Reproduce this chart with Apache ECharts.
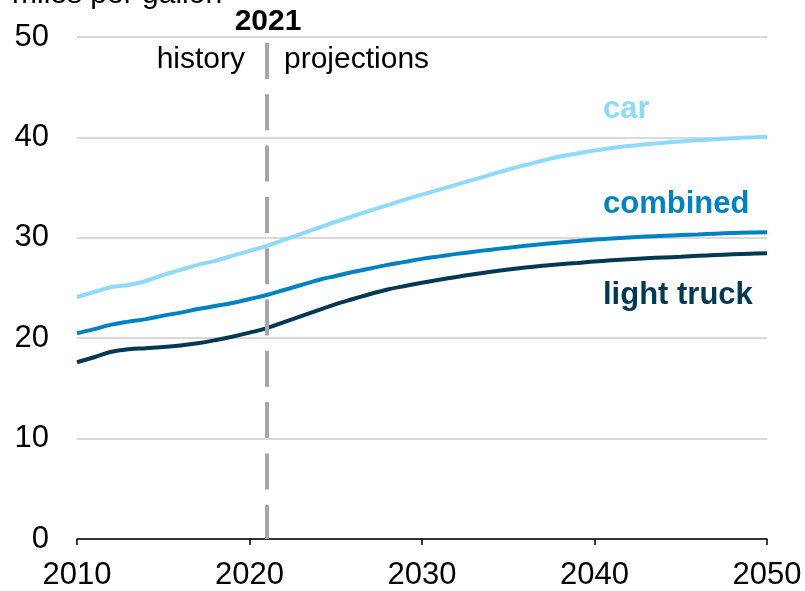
<!DOCTYPE html>
<html>
<head>
<meta charset="utf-8">
<script src="https://cdn.jsdelivr.net/npm/echarts@6/dist/echarts.min.js"></script>
<style>html,body{margin:0;padding:0;background:#fff}#c{width:805px;height:591px}</style>
</head>
<body>
<div id="c"></div>
<script>
const years = [];
for (let y = 2010; y <= 2050; y++) years.push(y);
const car = [24.1,24.6,25.1,25.3,25.7,26.3,26.8,27.3,27.7,28.2,28.7,29.2,29.8,30.4,31.0,31.6,32.15,32.7,33.25,33.8,34.3,34.8,35.3,35.8,36.3,36.8,37.25,37.7,38.1,38.4,38.7,38.95,39.15,39.32,39.47,39.6,39.72,39.82,39.92,40.0,40.07];
const combined = [20.5,20.9,21.35,21.65,21.9,22.25,22.55,22.9,23.2,23.5,23.9,24.3,24.8,25.3,25.8,26.2,26.6,26.95,27.3,27.6,27.9,28.15,28.4,28.62,28.82,29.02,29.2,29.38,29.54,29.68,29.82,29.93,30.03,30.12,30.2,30.27,30.34,30.41,30.47,30.52,30.56];
const lightTruck = [17.6,18.1,18.65,18.9,19.0,19.12,19.28,19.5,19.8,20.15,20.55,21.0,21.6,22.2,22.8,23.4,23.9,24.4,24.85,25.2,25.52,25.82,26.1,26.37,26.62,26.85,27.05,27.22,27.37,27.5,27.65,27.77,27.87,27.96,28.04,28.11,28.2,28.28,28.35,28.41,28.46];
const xTicks = [2010, 2020, 2030, 2040, 2050];
const yTicks = [0, 10, 20, 30, 40, 50];
const divideYear = 2021;

const FONT = 'Liberation Sans, Arial, sans-serif';
const colors = { car: '#8fd9ff', combined: '#0081c2', truck: '#003953' };
const pair = arr => arr.map((v, i) => [years[i], v]);

const chart = echarts.init(document.getElementById('c'), null, { renderer: 'canvas' });
chart.setOption({
  animation: false,
  grid: { left: 77, right: 38, top: 37, bottom: 52, containLabel: false },
  xAxis: {
    type: 'value', min: xTicks[0], max: xTicks[xTicks.length - 1], interval: 10,
    axisLine: { show: true, onZero: false, lineStyle: { color: '#000', width: 1.5 } },
    axisTick: { show: true, length: 6, inside: false, lineStyle: { color: '#000', width: 1.5 } },
    axisLabel: { color: '#000', fontSize: 31, fontFamily: FONT, margin: 21, showMinLabel: true, showMaxLabel: true,
      formatter: v => String(v) },
    splitLine: { show: false }
  },
  yAxis: {
    type: 'value', min: yTicks[0], max: yTicks[yTicks.length - 1], interval: 10,
    axisLine: { show: false }, axisTick: { show: false },
    axisLabel: { color: '#000', fontSize: 31, fontFamily: FONT, margin: 28 },
    splitLine: { show: true, lineStyle: { color: '#d9d9d9', width: 2 } }
  },
  series: [
    { name: 'car', type: 'line', data: pair(car), showSymbol: false, smooth: 0.4,
      lineStyle: { color: colors.car, width: 4 }, itemStyle: { color: colors.car }, z: 3 },
    { name: 'combined', type: 'line', data: pair(combined), showSymbol: false, smooth: 0.4,
      lineStyle: { color: colors.combined, width: 4 }, itemStyle: { color: colors.combined }, z: 3 },
    { name: 'light truck', type: 'line', data: pair(lightTruck), showSymbol: false, smooth: 0.4,
      lineStyle: { color: colors.truck, width: 4 }, itemStyle: { color: colors.truck }, z: 3,
      markLine: {
        silent: true, symbol: ['none', 'none'], label: { show: false },
        lineStyle: { color: '#a6a6a6', width: 4, type: [36, 15.3] },
        data: [[{ coord: [divideYear, 49.4] }, { coord: [divideYear, 0] }]]
      }
    }
  ],
  graphic: [
    { type: 'text', left: 12, top: -20, style: { text: 'miles per gallon', fontSize: 30, fontFamily: FONT, fill: '#000' } },
    { type: 'text', x: 268, y: 21.5, style: { text: '2021', fontSize: 30, fontWeight: 'bold', fontFamily: FONT, fill: '#000', align: 'center', verticalAlign: 'middle' } },
    { type: 'text', x: 245, y: 59.5, style: { text: 'history', fontSize: 30, fontFamily: FONT, fill: '#000', align: 'right', verticalAlign: 'middle' } },
    { type: 'text', x: 284, y: 59.5, style: { text: 'projections', fontSize: 30, fontFamily: FONT, fill: '#000', align: 'left', verticalAlign: 'middle' } },
    { type: 'text', x: 603, y: 109.5, style: { text: 'car', fontSize: 31, fontWeight: 'bold', fontFamily: FONT, fill: colors.car, align: 'left', verticalAlign: 'middle' } },
    { type: 'text', x: 603, y: 204.5, style: { text: 'combined', fontSize: 31, fontWeight: 'bold', fontFamily: FONT, fill: colors.combined, align: 'left', verticalAlign: 'middle' } },
    { type: 'text', x: 603, y: 295.5, style: { text: 'light truck', fontSize: 31, fontWeight: 'bold', fontFamily: FONT, fill: colors.truck, align: 'left', verticalAlign: 'middle' } }
  ]
});
</script>
</body>
</html>
